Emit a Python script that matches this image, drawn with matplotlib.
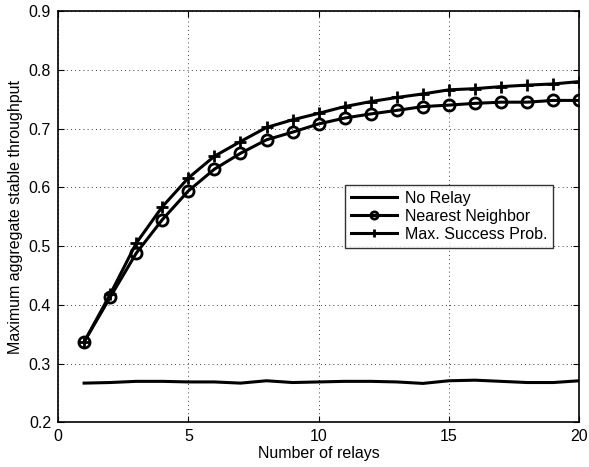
import matplotlib
matplotlib.use("Agg")
import matplotlib.pyplot as plt

plt.rcParams['font.family'] = ['Liberation Sans', 'DejaVu Sans']

relays = list(range(1, 21))
no_relay = [0.267, 0.268, 0.270, 0.270, 0.269, 0.269, 0.267, 0.271, 0.268, 0.269,
            0.270, 0.270, 0.269, 0.2665, 0.271, 0.272, 0.270, 0.268, 0.268, 0.271]
nearest = [0.337, 0.413, 0.488, 0.545, 0.594, 0.631, 0.658, 0.681, 0.694, 0.708,
           0.718, 0.725, 0.731, 0.7375, 0.740, 0.743, 0.745, 0.745, 0.748, 0.748]
max_succ = [0.337, 0.418, 0.505, 0.567, 0.616, 0.653, 0.678, 0.702, 0.715, 0.726,
            0.7375, 0.746, 0.753, 0.759, 0.766, 0.768, 0.7715, 0.774, 0.776, 0.780]

xticks = [0, 5, 10, 15, 20]
yticks = [0.2, 0.3, 0.4, 0.5, 0.6, 0.7, 0.8, 0.9]

fs = 11.5
fig = plt.figure(figsize=(5.89, 4.67), dpi=100)
ax = fig.add_axes([0.0985, 0.0953, 0.885, 0.881])

lw = 2.2
ax.plot(relays, no_relay, '-', color='black', lw=lw, label='No Relay')
ax.plot(relays, nearest, '-', color='black', lw=lw, marker='o', ms=8,
        mfc='none', mew=2, label='Nearest Neighbor')
ax.plot(relays, max_succ, '-', color='black', lw=lw, marker='+', ms=9,
        mew=2, label='Max. Success Prob.')

ax.set_xlim(0, 20)
ax.set_ylim(0.2, 0.9)
ax.set_xticks(xticks)
ax.set_yticks(yticks)
ax.set_xticklabels([str(t) for t in xticks])
ax.set_yticklabels([f"{t:.1f}" for t in yticks])
ax.grid(True, linestyle=(0, (1, 4)), color='black', lw=0.6)
ax.tick_params(direction='in', top=True, right=True, labelsize=fs, length=4, pad=5)
for s in ax.spines.values():
    s.set_linewidth(1.2)
ax.set_xlabel('Number of relays', fontsize=fs, labelpad=1)
ax.set_ylabel('Maximum aggregate stable throughput', fontsize=fs, labelpad=4)

leg = ax.legend(loc='upper left', bbox_to_anchor=(0.5505, 0.577), fontsize=fs,
                frameon=True, fancybox=False, edgecolor='black', handlelength=2.9,
                borderpad=0.35, labelspacing=0.2, handletextpad=0.5, borderaxespad=0,
                markerscale=0.65)
leg.get_frame().set_linewidth(1.0)

fig.savefig('out.png', dpi=100)
